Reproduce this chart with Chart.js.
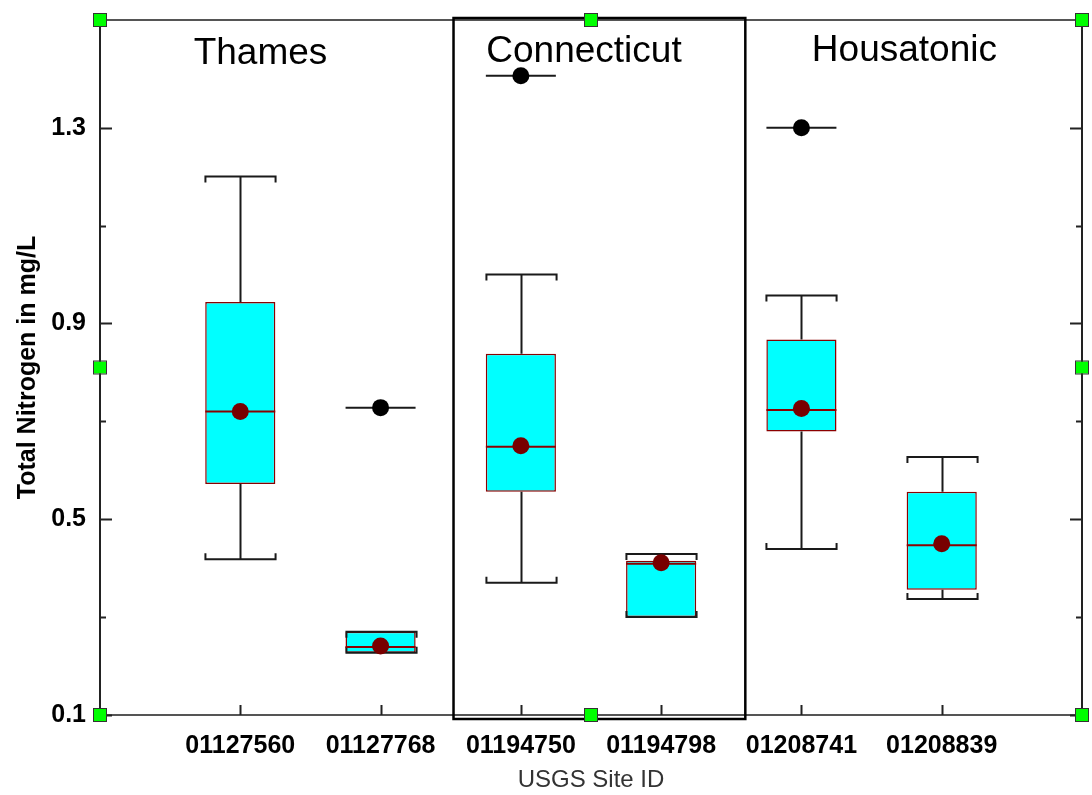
<!DOCTYPE html>
<html>
<head>
<meta charset="utf-8">
<title>Total Nitrogen by USGS site</title>
<script src="https://cdn.jsdelivr.net/npm/chart.js@4.4.1/dist/chart.umd.min.js"></script>
<style>
    html, body { margin:0; padding:0; background:#fff; }
    #chart-tn { display:block; }
</style>
</head>
<body>
<canvas id="chart-tn" width="1092" height="795"></canvas>
<script>
// Box plot summaries per site (mg/L)
const siteIds     = ['01127560','01127768','01194750','01194798','01208741','01208839'];
const whiskerLow  = [0.418, 0.227, 0.370, 0.300, 0.439, 0.337];
const q1          = [0.572, 0.227, 0.556, 0.300, 0.679, 0.356];
const medians     = [0.720, 0.239, 0.648, 0.409, 0.723, 0.447];
const q3          = [0.944, 0.270, 0.838, 0.415, 0.867, 0.556];
const whiskerHigh = [1.200, 0.270, 1.000, 0.429, 0.957, 0.627];
const means       = [0.720, 0.241, 0.650, 0.411, 0.726, 0.450];
const outliers    = [null, 0.728, 1.406, null, 1.300, null];

const yTickValues = [0.1, 0.3, 0.5, 0.7, 0.9, 1.1, 1.3];
const yTickLabels = [0.1, 0.5, 0.9, 1.3];

const basins = ['Thames', 'Connecticut', 'Housatonic'];

(function(){
    const FONT = "'Liberation Sans', Arial, sans-serif";
    const palette = {
        box: '#00ffff',
        edge: '#8b0000',
        mean: '#780000',
        handle: '#00ff00'
    };

    // where the basin names sit, in axis units
    const basinAnchors = [
        { x:1.144, y:1.431 },
        { x:3.450, y:1.435 },
        { x:5.734, y:1.437 }
    ];

    const pts = (vals) => vals
        .map((v, i) => v == null ? null : { x: i + 1, y: v })
        .filter(Boolean);

    // whiskers + caps, drawn right after the boxes so the caps sit over the box edges
    const whiskerPlugin = {
        id: 'whiskers',
        afterDatasetDraw(chart, args){
            if (args.index !== 0) { return; }
            const { ctx, scales:{ x, y } } = chart;
            const half = x.getPixelForValue(1.25) - x.getPixelForValue(1);
            ctx.save();
            ctx.strokeStyle = '#1a1a1a';
            ctx.lineWidth = 2;
            siteIds.forEach((_, i) => {
                const cx = Math.round(x.getPixelForValue(i + 1)) + 0.5;
                const yHi = y.getPixelForValue(whiskerHigh[i]);
                const yLo = y.getPixelForValue(whiskerLow[i]);
                const yQ3 = y.getPixelForValue(q3[i]);
                const yQ1 = y.getPixelForValue(q1[i]);
                ctx.beginPath();
                if (yHi < yQ3) { ctx.moveTo(cx, yQ3); ctx.lineTo(cx, yHi); }
                if (yLo > yQ1) { ctx.moveTo(cx, yQ1); ctx.lineTo(cx, yLo); }
                // caps with small serifs turned toward the box
                ctx.moveTo(cx - half, yHi + 6); ctx.lineTo(cx - half, yHi); ctx.lineTo(cx + half, yHi); ctx.lineTo(cx + half, yHi + 6);
                ctx.moveTo(cx - half, yLo - 6); ctx.lineTo(cx - half, yLo); ctx.lineTo(cx + half, yLo); ctx.lineTo(cx + half, yLo - 6);
                ctx.stroke();
            });
            ctx.restore();
        }
    };

    // frame, inward ticks, basin labels, the Connecticut outline and the handles
    const framePlugin = {
        id: 'frame',
        afterDraw(chart){
            const { ctx, chartArea:a, scales:{ x, y } } = chart;
            ctx.save();

            ctx.lineWidth = 2;
            ctx.strokeStyle = '#555';
            ctx.beginPath();
            ctx.moveTo(a.left, a.top); ctx.lineTo(a.right, a.top);
            ctx.moveTo(a.left, a.bottom); ctx.lineTo(a.right, a.bottom);
            ctx.stroke();
            ctx.strokeStyle = '#222';
            ctx.beginPath();
            ctx.moveTo(a.left, a.top); ctx.lineTo(a.left, a.bottom);
            ctx.moveTo(a.right, a.top); ctx.lineTo(a.right, a.bottom);
            ctx.stroke();

            ctx.beginPath();
            yTickValues.forEach(v => {
                const py = Math.round(y.getPixelForValue(v)) + 0.5;
                const len = yTickLabels.includes(v) ? 12 : 6;
                ctx.moveTo(a.left, py); ctx.lineTo(a.left + len, py);
                ctx.moveTo(a.right, py); ctx.lineTo(a.right - len, py);
            });
            siteIds.forEach((_, i) => {
                const px = Math.round(x.getPixelForValue(i + 1)) + 0.5;
                ctx.moveTo(px, a.bottom); ctx.lineTo(px, a.bottom - 10);
            });
            ctx.stroke();

            // Connecticut basin outline
            ctx.strokeStyle = '#000';
            ctx.lineWidth = 2.5;
            const l = x.getPixelForValue(2.52), r = x.getPixelForValue(4.6);
            ctx.strokeRect(l, a.top - 2, r - l, a.bottom - a.top + 6);

            ctx.fillStyle = '#000';
            ctx.font = `37px ${FONT}`;
            ctx.textAlign = 'center';
            ctx.textBaseline = 'alphabetic';
            basins.forEach((name, i) => {
                const p = basinAnchors[i];
                ctx.fillText(name, x.getPixelForValue(p.x), y.getPixelForValue(p.y));
            });

            // selection handles on corners and edge midpoints
            const mx = (a.left + a.right) / 2, my = (a.top + a.bottom) / 2;
            [[a.left,a.top],[mx,a.top],[a.right,a.top],[a.left,my],[a.right,my],[a.left,a.bottom],[mx,a.bottom],[a.right,a.bottom]]
                .forEach(([hx, hy]) => {
                    ctx.fillStyle = palette.handle;
                    ctx.fillRect(hx - 6, hy - 6, 12, 12);
                    ctx.strokeStyle = '#333';
                    ctx.lineWidth = 1;
                    ctx.strokeRect(hx - 6.5, hy - 6.5, 13, 13);
                });
            ctx.restore();
        }
    };

    const tickFont = { family: FONT, size: 25, weight: 'bold' };

    new Chart(document.getElementById('chart-tn'), {
        type: 'bar',
        data: {
            datasets: [
                {
                    type: 'bar', label: 'Interquartile range',
                    data: siteIds.map((_, i) => ({ x: i + 1, y: [q1[i], q3[i]] })),
                    backgroundColor: palette.box, borderColor: palette.edge, borderWidth: 1.5,
                    borderSkipped: false, barPercentage: 0.5, categoryPercentage: 1, order: 4
                },
                {
                    type: 'scatter', label: 'Median', data: pts(medians),
                    pointStyle: 'line', pointRadius: 35, borderColor: palette.edge, borderWidth: 2, order: 3
                },
                {
                    type: 'scatter', label: 'Outlier line', data: pts(outliers),
                    pointStyle: 'line', pointRadius: 35, borderColor: '#1a1a1a', borderWidth: 2, order: 2
                },
                {
                    type: 'scatter', label: 'Outlier', data: pts(outliers),
                    pointStyle: 'circle', pointRadius: 8.5, backgroundColor: '#000', borderWidth: 0, order: 1
                },
                {
                    type: 'scatter', label: 'Mean', data: pts(means),
                    pointStyle: 'circle', pointRadius: 8.5, backgroundColor: palette.mean, borderWidth: 0, order: 0
                }
            ]
        },
        options: {
            responsive: false,
            animation: false,
            layout: { autoPadding: false, padding: { top: 20, right: 10, left: 0, bottom: 0 } },
            plugins: { legend: { display: false }, tooltip: { enabled: false } },
            scales: {
                x: {
                    type: 'linear', min: 0, max: 7, offset: false,
                    grid: { display: false, drawTicks: false }, border: { display: false },
                    afterBuildTicks: s => { s.ticks = siteIds.map((_, i) => ({ value: i + 1 })); },
                    ticks: { callback: v => siteIds[v - 1] || '', font: tickFont, color: '#000', padding: 16, maxRotation: 0, autoSkip: false },
                    title: { display: true, text: 'USGS Site ID', font: { family: FONT, size: 24 }, color: '#333', padding: { top: 0, bottom: 0 } },
                    afterFit: s => { s.height = 80; s.paddingLeft = 0; s.paddingRight = 0; }
                },
                y: {
                    min: 0.1, max: 1.52,
                    grid: { display: false, drawTicks: false }, border: { display: false },
                    afterBuildTicks: s => { s.ticks = yTickValues.map(v => ({ value: v })); },
                    ticks: { callback: v => yTickLabels.includes(v) ? v.toFixed(1) : '', font: tickFont, color: '#000', padding: 14, autoSkip: false },
                    title: { display: true, text: 'Total Nitrogen in mg/L', font: { family: FONT, size: 25, weight: 'bold' }, color: '#000', padding: { top: 13 } },
                    afterFit: s => { s.width = 100; s.paddingTop = 0; s.paddingBottom = 0; }
                }
            }
        },
        plugins: [whiskerPlugin, framePlugin]
    });
})();
</script>
</body>
</html>
